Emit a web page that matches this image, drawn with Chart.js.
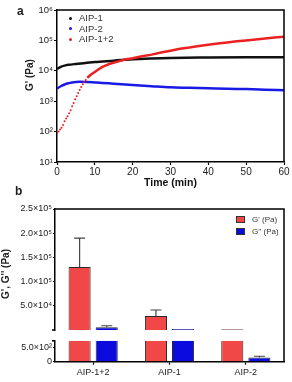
<!DOCTYPE html>
<html><head><meta charset="utf-8">
<script src="https://cdn.jsdelivr.net/npm/chart.js@4.4.1/dist/chart.umd.min.js"></script>
<style>
html,body{margin:0;padding:0;background:#fff;}
#wrap{position:relative;width:292px;height:382px;overflow:hidden;font-family:Arial,"Liberation Sans",sans-serif;color:#222;}
.box{position:absolute;left:0;width:292px;}
.lbl{position:absolute;white-space:nowrap;}
.rot{position:absolute;white-space:nowrap;transform:translate(-50%,-50%) rotate(-90deg);font-weight:bold;}
.dot{position:absolute;width:3px;height:3px;border-radius:50%;}
.sq{position:absolute;width:7px;height:5px;border:1px solid #333;}
</style></head><body>
<div id="wrap">
 <div class="box" style="top:0;height:190px"><canvas id="ca"></canvas></div>
 <div class="box" style="top:190px;height:192px"><canvas id="cb"></canvas></div>
 <div class="lbl" style="left:17px;top:5px;font-weight:bold;font-size:12px;line-height:12px">a</div>
 <div class="lbl" style="left:15px;top:185px;font-weight:bold;font-size:12px;line-height:12px">b</div>
 <div class="rot" style="left:29px;top:75px;font-size:10px">G' (Pa)</div>
 <div class="rot" style="left:5px;top:274px;font-size:10px">G', G'' (Pa)</div>
 <div id="legA"></div>
 <div id="legB"></div>
</div>
<script>
// ---- Panel a data ----
const seriesNames = ['AIP-1', 'AIP-2', 'AIP-1+2'];
const seriesColors = ['#111111', '#1a1ae6', '#ec2020'];
const timeBlack = [0, 1, 2, 3, 5, 7.5, 10, 15, 20, 25, 30, 40, 50, 60];
const gBlack = [11500, 13500, 14800, 15700, 16800, 18000, 19500, 21500, 24000, 25500, 26500, 27300, 27800, 28000];
const timeBlue = [0, 1, 2, 3, 4, 5, 6, 8, 10, 12, 15, 20, 25, 30, 35, 40, 45, 50, 55, 60];
const gBlue = [2600, 3100, 3550, 3900, 4150, 4300, 4350, 4300, 4150, 4000, 3750, 3400, 3100, 2850, 2750, 2650, 2550, 2500, 2400, 2300];
const timeRed = [0, 0.4, 0.8, 1.2, 1.6, 2.0, 2.4, 2.8, 3.2, 3.6, 4.0, 4.4, 4.8, 5.2, 5.6, 6.0, 6.4, 6.8, 7.2, 7.6, 8,
  9, 10, 11, 12, 14, 16, 18, 20, 22.5, 25, 27.5, 30, 32.5, 35, 37.5, 40, 42.5, 45, 47.5, 50, 52.5, 55, 57.5, 60];
const gRed = [88, 100, 118, 135, 165, 220, 270, 320, 400, 500, 680, 880, 1150, 1450, 1850, 2350, 2950, 3600, 4300, 5000, 5900,
  7500, 9200, 11300, 13500, 17000, 20000, 23500, 26000, 30000, 34000, 40000, 46000, 53000, 58000, 65000, 72000, 79000, 86000, 93000, 100000, 108000, 116000, 124000, 132000];
const aYTicks = [10, 100, 1000, 10000, 100000, 1000000];
const aYTickLabels = ['10\u00b9', '10\u00b2', '10\u00b3', '10\u2074', '10\u2075', '10\u2076'];
const aXTicks = [0, 10, 20, 30, 40, 50, 60];

// ---- Panel b data ----
const categories = ['AIP-1+2', 'AIP-1', 'AIP-2'];
const barNames = ["G' (Pa)", "G'' (Pa)"];
const barColors = ['#f24747', '#0b0be0'];
const gPrime = [130000, 29000, 1800];
const gPrimeErr = [60000, 12400, 0];
const gDouble = [5600, 2000, 150];
const gDoubleErr = [3300, 0, 45];
const bUpperTicks = [50000, 100000, 150000, 200000, 250000];
const bUpperLabels = ['5.0\u00d710\u2074', '1.0\u00d710\u2075', '1.5\u00d710\u2075', '2.0\u00d710\u2075', '2.5\u00d710\u2075'];
const bLowerTicks = [0, 500];
const bLowerLabels = ['0', '5.0\u00d710\u00b2'];

Chart.defaults.font.family = 'Arial, "Liberation Sans", sans-serif';
Chart.defaults.color = '#222';
Chart.defaults.animation = false;

// HTML legends
(function () {
  const la = document.getElementById('legA');
  seriesNames.forEach((n, i) => {
    const y = 18 + i * 10.5;
    la.insertAdjacentHTML('beforeend',
      `<div class="dot" style="left:68.5px;top:${y - 1.5}px;background:${seriesColors[i]}"></div>` +
      `<div class="lbl" style="left:79px;top:${y - 5}px;font-size:9.5px;line-height:10px;color:#333">${n}</div>`);
  });
  const lb = document.getElementById('legB');
  barNames.forEach((n, i) => {
    const y = 219.5 + i * 12;
    lb.insertAdjacentHTML('beforeend',
      `<div class="sq" style="left:236px;top:${y - 3.5}px;background:${barColors[i]}"></div>` +
      `<div class="lbl" style="left:252px;top:${y - 4.5}px;font-size:8px;line-height:9px;color:#333">${n}</div>`);
  });
})();

const frameA = {
  id: 'frameA',
  afterDraw(chart) {
    const {ctx, chartArea: a} = chart;
    ctx.save();
    ctx.strokeStyle = '#000'; ctx.lineWidth = 1.5;
    ctx.beginPath();
    ctx.moveTo(a.left, a.top); ctx.lineTo(a.right, a.top); ctx.lineTo(a.right, a.bottom);
    ctx.stroke();
    ctx.restore();
  }
};

const toXY = (xs, ys) => xs.map((x, i) => ({x: x, y: ys[i]}));

new Chart(document.getElementById('ca'), {
  type: 'line',
  data: {
    datasets: [
      {label: seriesNames[2], data: toXY(timeRed, gRed), order: 0, borderColor: seriesColors[2], backgroundColor: seriesColors[2],
        borderWidth: 2.5, tension: 0,
        pointRadius: ctx => (ctx.raw && ctx.raw.x < 8 ? 1.0 : 0), pointBorderWidth: 0, pointHoverRadius: 0,
        segment: {borderColor: ctx => (ctx.p0.parsed.x < 8 ? 'rgba(0,0,0,0)' : undefined)}},
      {label: seriesNames[0], data: toXY(timeBlack, gBlack), order: 1, borderColor: seriesColors[0], borderWidth: 2.5,
        pointRadius: 0, cubicInterpolationMode: 'monotone'},
      {label: seriesNames[1], data: toXY(timeBlue, gBlue), order: 2, borderColor: seriesColors[1], borderWidth: 2.5,
        pointRadius: 0, cubicInterpolationMode: 'monotone'}
    ]
  },
  options: {
    responsive: true, maintainAspectRatio: false,
    layout: {padding: {left: 0, top: 10, right: 8, bottom: 0}},
    plugins: {legend: {display: false}, tooltip: {enabled: false}},
    scales: {
      x: {type: 'linear', min: 0, max: 60,
        afterBuildTicks: s => { s.ticks = aXTicks.map(v => ({value: v})); },
        grid: {display: true, drawOnChartArea: false, drawTicks: true, tickLength: 3, color: '#000', tickWidth: 1.2},
        border: {display: true, color: '#000', width: 1.5},
        ticks: {font: {size: 10}, color: '#222', padding: 1, maxRotation: 0, autoSkip: false},
        title: {display: true, text: 'Time (min)', font: {size: 10.5, weight: 'bold'}, color: '#111', padding: {top: 0, bottom: 1}},
        afterFit: s => { s.height = 28; }
      },
      y: {type: 'logarithmic', min: 10, max: 1000000,
        afterBuildTicks: s => { s.ticks = aYTicks.map(v => ({value: v})); },
        grid: {display: true, drawOnChartArea: false, drawTicks: true, tickLength: 3, color: '#000', tickWidth: 1.2},
        border: {display: true, color: '#000', width: 1.5},
        ticks: {font: {size: 9.5}, color: '#222', padding: 1, autoSkip: false,
          callback: v => aYTickLabels[aYTicks.indexOf(v)] || ''},
        afterFit: s => { s.width = 57; }
      }
    }
  },
  plugins: [frameA]
});

// ---- Panel b ----
const errorBars = {
  id: 'errorBars',
  afterDatasetsDraw(chart) {
    const ctx = chart.ctx; const yL = chart.scales.yL;
    chart.data.datasets.forEach((ds, i) => {
      if (!ds.errors) return;
      const meta = chart.getDatasetMeta(i);
      const ys = chart.scales[ds.yAxisID];
      const upper = ds.yAxisID === 'yU';
      meta.data.forEach((bar, j) => {
        const v = ds.data[j], e = ds.errors[j];
        if (!e) return;
        if (upper ? v <= yL.max : v >= yL.max) return;
        const x = bar.x, y0 = ys.getPixelForValue(v), y1 = ys.getPixelForValue(v + e);
        ctx.save();
        ctx.strokeStyle = '#444'; ctx.lineWidth = 1.2;
        ctx.beginPath();
        ctx.moveTo(x, y0); ctx.lineTo(x, y1);
        ctx.moveTo(x - 5.5, y1); ctx.lineTo(x + 5.5, y1);
        ctx.stroke();
        ctx.restore();
      });
    });
  }
};
const frameB = {
  id: 'frameB',
  afterDraw(chart) {
    const {ctx, chartArea: a} = chart;
    const yU = chart.scales.yU, yL = chart.scales.yL;
    ctx.save();
    ctx.strokeStyle = '#000'; ctx.lineWidth = 1.5;
    ctx.beginPath();
    ctx.moveTo(a.left, yU.top); ctx.lineTo(a.right, yU.top); ctx.lineTo(a.right, a.bottom);
    // axis break markers
    ctx.moveTo(a.left - 3, yU.bottom); ctx.lineTo(a.left, yU.bottom);
    ctx.moveTo(a.left - 3, yL.top); ctx.lineTo(a.left, yL.top);
    ctx.stroke();
    ctx.restore();
  }
};
const clipLower = {
  id: 'clipLower',
  beforeDatasetDraw(chart, args) {
    const meta = args.meta;
    const ys = meta.yScale;
    const ctx = chart.ctx;
    ctx.save();
    ctx.beginPath();
    ctx.rect(chart.chartArea.left, ys.top, chart.chartArea.right - chart.chartArea.left, ys.bottom - ys.top);
    ctx.clip();
  },
  afterDatasetDraw(chart) { chart.ctx.restore(); }
};

const barCommon = {borderColor: '#2a2a2a', borderWidth: 1, categoryPercentage: 0.71, barPercentage: 0.815};
new Chart(document.getElementById('cb'), {
  type: 'bar',
  data: {
    labels: categories,
    datasets: [
      Object.assign({label: barNames[0], data: gPrime, errors: gPrimeErr, yAxisID: 'yU', stack: 'p', backgroundColor: barColors[0]}, barCommon),
      Object.assign({label: barNames[1], data: gDouble, errors: gDoubleErr, yAxisID: 'yU', stack: 'd', backgroundColor: barColors[1]}, barCommon),
      Object.assign({label: barNames[0], data: gPrime, errors: gPrimeErr, yAxisID: 'yL', stack: 'p', backgroundColor: barColors[0]}, barCommon),
      Object.assign({label: barNames[1], data: gDouble, errors: gDoubleErr, yAxisID: 'yL', stack: 'd', backgroundColor: barColors[1]}, barCommon)
    ]
  },
  options: {
    responsive: true, maintainAspectRatio: false,
    layout: {padding: {left: 0, top: 19, right: 8, bottom: 0}},
    plugins: {legend: {display: false}, tooltip: {enabled: false}},
    scales: {
      x: {type: 'category',
        grid: {display: true, drawOnChartArea: false, drawTicks: true, tickLength: 3, color: '#000', tickWidth: 1.2, offset: false},
        border: {display: true, color: '#000', width: 1.5},
        ticks: {font: {size: 9}, color: '#222', padding: 2, maxRotation: 0, autoSkip: false},
        afterFit: s => { s.height = 20.3; }
      },
      yU: {type: 'linear', position: 'left', stack: 'v', stackWeight: 121.3, weight: 3, min: 0, max: 250000, stacked: false,
        afterBuildTicks: s => { s.ticks = bUpperTicks.map(v => ({value: v})); },
        grid: {display: true, drawOnChartArea: false, drawTicks: true, tickLength: 2, color: '#000', tickWidth: 1.2},
        border: {display: true, color: '#000', width: 1.5},
        ticks: {font: {size: 9}, color: '#222', padding: 1, autoSkip: false,
          callback: v => bUpperLabels[bUpperTicks.indexOf(v)] || ''},
        afterFit: s => { s.width = 55; }
      },
      yGap: {type: 'linear', position: 'left', stack: 'v', stackWeight: 10.7, weight: 2, display: true,
        ticks: {display: false}, grid: {display: false}, border: {display: false},
        afterFit: s => { s.width = 55; }
      },
      yL: {type: 'linear', position: 'left', stack: 'v', stackWeight: 21, weight: 1, min: 0, max: 750, stacked: false,
        afterBuildTicks: s => { s.ticks = bLowerTicks.map(v => ({value: v})); },
        grid: {display: true, drawOnChartArea: false, drawTicks: true, tickLength: 2, color: '#000', tickWidth: 1.2},
        border: {display: true, color: '#000', width: 1.5},
        ticks: {font: {size: 9}, color: '#222', padding: 1, autoSkip: false,
          callback: v => bLowerLabels[bLowerTicks.indexOf(v)] || ''},
        afterFit: s => { s.width = 55; }
      }
    }
  },
  plugins: [clipLower, errorBars, frameB]
});
</script>
</body></html>
